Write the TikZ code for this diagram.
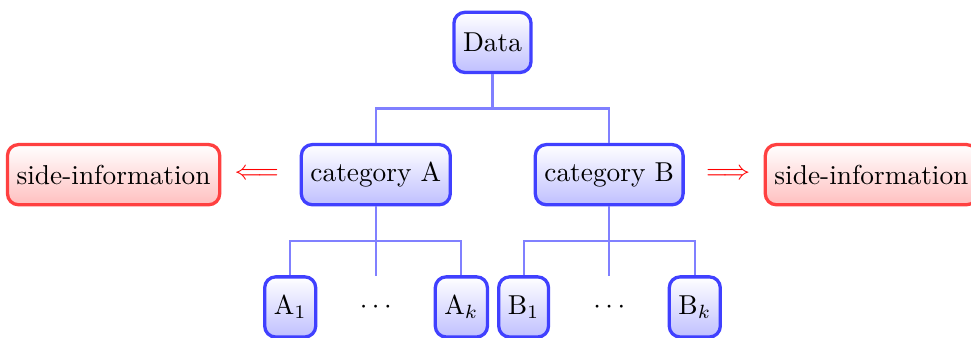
\documentclass[tikz,border=0pt]{standalone}
\usetikzlibrary{calc}

\begin{document}
\begin{tikzpicture}[
  blockbox/.style={draw=blue!75,very thick,rounded corners=4pt,top color=white,bottom color=blue!25,minimum height=22pt},
  sidebox/.style={draw=red!75,very thick,rounded corners=4pt,top color=white,bottom color=red!25,minimum height=22pt},
  link/.style={blue!50,thick}]
\useasboundingbox (-6.33,0.545) rectangle (6.15,-3.79);
% root and the two categories
\node[blockbox] (data) at (0,0) {Data};
\node[blockbox] (catA) at (-1.5,-1.7) {category A};
\node[blockbox] (catB) at (1.5,-1.7) {category B};
% side information
\node[red] (arrA) at (-3.03,-1.7) {$\Longleftarrow$};
\node[red] (arrB) at (3.03,-1.7) {$\Longrightarrow$};
\node[sidebox] (sideA) at (-4.87,-1.7) {side-information};
\node[sidebox] (sideB) at (4.87,-1.7) {side-information};
% leaves
\node[blockbox] (a1) at (-2.6,-3.4) {A$_1$};
\node[minimum height=22pt] (dotsA) at (-1.5,-3.4) {$\cdots$};
\node[blockbox] (ak) at (-0.4,-3.4) {A$_k$};
\node[blockbox] (b1) at (0.4,-3.4) {B$_1$};
\node[minimum height=22pt] (dotsB) at (1.5,-3.4) {$\cdots$};
\node[blockbox] (bk) at (2.6,-3.4) {B$_k$};
% connectors
\coordinate (forkD) at ($(data.south)!.5!(catA.north)$);
\coordinate (forkA) at ($(catA.south)!.5!(a1.north)$);
\coordinate (forkB) at ($(catB.south)!.5!(b1.north)$);
\draw[link] (data.south) -- (data.south |- forkD);
\draw[link] (catA.north) |- (forkD) -| (catB.north);
\draw[link] (catA.south) -- (dotsA.north);
\draw[link] (a1.north) |- (forkA) -| (ak.north);
\draw[link] (catB.south) -- (dotsB.north);
\draw[link] (b1.north) |- (forkB) -| (bk.north);
\end{tikzpicture}
\end{document}
